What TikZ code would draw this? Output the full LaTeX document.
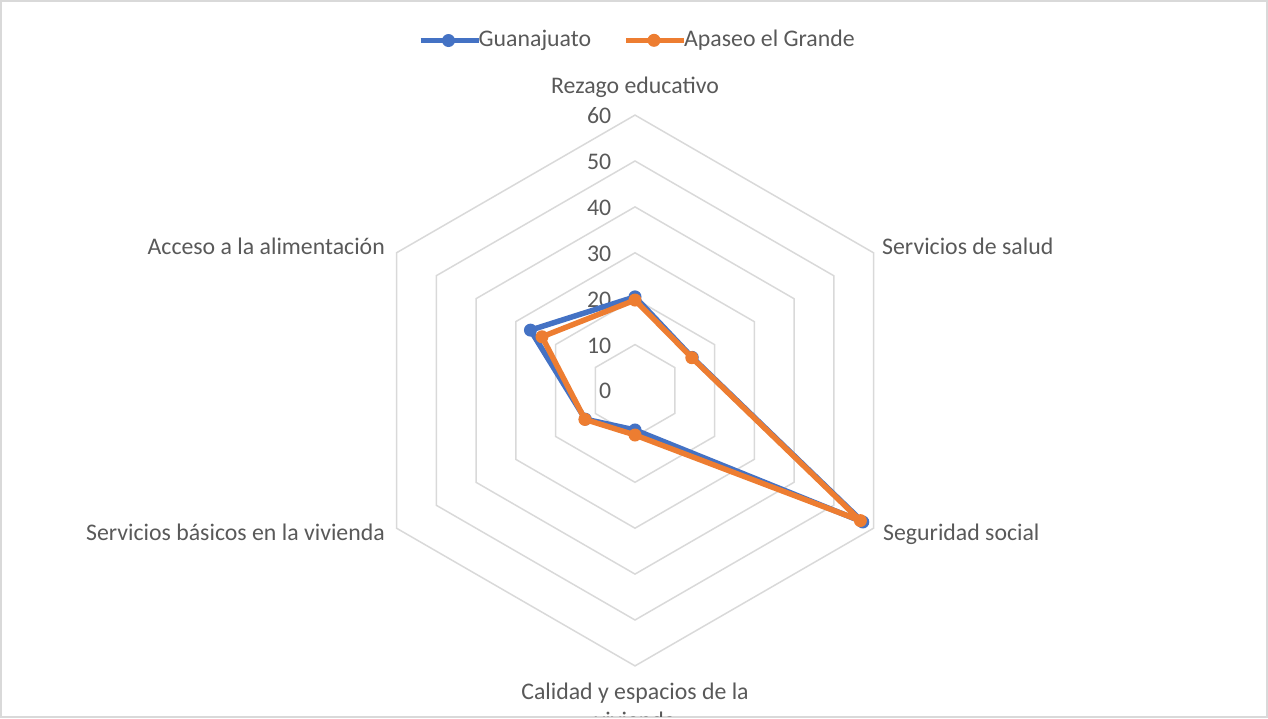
\documentclass[tikz,border=0pt]{standalone}
\usepackage{fontspec}
\setmainfont{Carlito}
\usetikzlibrary{positioning}

\definecolor{gridgray}{HTML}{D9D9D9}
\definecolor{labelgray}{HTML}{595959}
\definecolor{guanablue}{HTML}{4472C4}
\definecolor{apaseoorange}{HTML}{ED7D31}

\tikzset{
  lbl/.style={text=labelgray, font=\fontsize{23.8}{29}\selectfont, inner sep=0pt},
  gridline/.style={draw=gridgray, line width=1.5pt},
  serie/.style={line width=5.5pt, line join=round},
  dot/.style={circle, fill=#1, minimum size=13pt, inner sep=0pt},
}

\begin{document}
\begin{tikzpicture}[x=1pt,y=1pt]
	% Define size of one unit on the radial axis
	\def\unit{4.59}

	\useasboundingbox (0,0) rectangle (1268,719);

	% Draw the chart frame
	\draw[gridline] (1,2) rectangle (1267,718);

	% Legend
	\node[lbl, anchor=base west] (legG) at (478.5,672.3) {Guanajuato};
	\draw[serie, guanablue] ([xshift=-58pt]legG.west) -- (legG.west);
	\node[dot=guanablue] (legGm) at ([xshift=-30pt]legG.west) {};
	\node[lbl, anchor=base west] (legA) at (684,672.3) {Apaseo el Grande};
	\draw[serie, apaseoorange] ([xshift=-58pt]legA.west) -- (legA.west);
	\node[dot=apaseoorange] (legAm) at ([xshift=-30pt]legA.west) {};

	\begin{scope}
		\clip (1,2) rectangle (1267,718);
		\begin{scope}[shift={(635,328.5)}]
			% Draw the hexagonal grid
			\foreach \k in {1,...,6}
				\draw[gridline] (90:{\k*10*\unit}) -- (30:{\k*10*\unit}) -- (-30:{\k*10*\unit})
					-- (-90:{\k*10*\unit}) -- (-150:{\k*10*\unit}) -- (150:{\k*10*\unit}) -- cycle;

			% Axis values
			\foreach \v in {0,10,...,60}
				\node[lbl, anchor=base east] (tick\v) at (-23.5,{\v*\unit-8.5}) {\v};

			% Category labels
			\node[lbl, anchor=base] (rezago) at (0,297.2) {Rezago educativo};
			\node[lbl, anchor=base west] (salud) at (247,136.2) {Servicios de salud};
			\node[lbl, anchor=base west] (seguridad) at (248,-150.5) {Seguridad social};
			\node[lbl, anchor=base, align=center] (calidad) at (0,-338.5) {Calidad y espacios de la\\vivienda};
			\node[lbl, anchor=base east] (basicos) at (-250,-150.5) {Servicios básicos en la vivienda};
			\node[lbl, anchor=base east] (alimentacion) at (-250,136.2) {Acceso a la alimentación};

			% Data points
			\foreach \p/\ang/\val in {g1/90/20.4, g2/30/14.4, g3/-30/57.3, g4/-90/8.6, g5/-150/12.5, g6/150/26.3,
				a1/90/19.7, a2/30/14.3, a3/-30/56.7, a4/-90/9.7, a5/-150/12.6, a6/150/23.4}
				\coordinate (\p) at (\ang:{\val*\unit});

			% Guanajuato
			\draw[serie, guanablue] (g1) -- (g2) -- (g3) -- (g4) -- (g5) -- (g6) -- cycle;
			\foreach \p in {g1,g2,g3,g4,g5,g6}
				\node[dot=guanablue] (m\p) at (\p) {};

			% Apaseo el Grande
			\draw[serie, apaseoorange] (a1) -- (a2) -- (a3) -- (a4) -- (a5) -- (a6) -- cycle;
			\foreach \p in {a1,a2,a3,a4,a5,a6}
				\node[dot=apaseoorange] (m\p) at (\p) {};
		\end{scope}
	\end{scope}
\end{tikzpicture}
\end{document}
